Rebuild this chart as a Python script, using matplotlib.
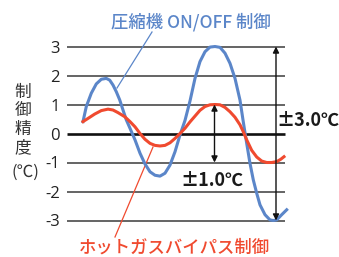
import matplotlib
matplotlib.use("Agg")
import matplotlib.pyplot as plt

plt.rcParams['font.family'] = ['Noto Sans CJK JP', 'DejaVu Sans']

# time axis (arbitrary units) and temperature deviation values
t_blue = [16, 19.3, 24.3, 29.3, 34.3, 39.3, 42.7, 46, 49.3, 52.7, 56, 59.3, 63,
          68, 73, 78, 83, 88, 93, 98, 103, 108, 113, 118, 123, 128, 133, 138,
          143, 148, 153, 158, 163, 168, 173, 176.3, 179.7, 183, 186.3, 189.7,
          193, 198, 203, 206.3, 209.7, 214.7, 219.7]
v_blue = [0.41, 0.93, 1.39, 1.71, 1.87, 1.9, 1.84, 1.67, 1.44, 1.16, 0.81, 0.47,
          0.18, -0.22, -0.68, -1.05, -1.32, -1.44, -1.47, -1.37, -1.09, -0.63,
          -0.05, 0.45, 1.12, 1.9, 2.48, 2.82, 2.98, 3.0, 2.97, 2.77, 2.42, 1.9,
          1.15, 0.4, -0.34, -1.03, -1.6, -2.06, -2.46, -2.8, -2.98, -3.0, -2.98,
          -2.8, -2.63]

t_red = [16, 21, 27.7, 34.3, 41, 46, 51, 57.7, 63, 68, 73, 78, 83, 88, 93, 98,
         103, 108, 113, 118, 123, 128, 133, 138, 143, 148, 153, 158, 163, 168,
         173, 176.3, 179.7, 184.7, 189.7, 194.7, 199.7, 204.7, 209.7, 213.7, 217]
v_red = [0.41, 0.52, 0.67, 0.79, 0.84, 0.81, 0.72, 0.58, 0.41, 0.23, 0.0, -0.2,
         -0.34, -0.41, -0.43, -0.41, -0.32, -0.17, 0.0, 0.18, 0.4, 0.6, 0.8,
         0.93, 0.99, 1.0, 0.99, 0.9, 0.75, 0.56, 0.3, 0.06, -0.22, -0.58,
         -0.81, -0.95, -1.0, -1.0, -0.97, -0.89, -0.8]

yticks = [3, 2, 1, 0, -1, -2, -3]
ytick_labels = ['3', '2', '1', '0', '-1', '-2', '-3']

blue_label = '圧縮機 ON/OFF 制御'
red_label = 'ホットガスバイパス制御'
ylabel_chars = ['制', '御', '精', '度']
yunit = '(℃)'
big_span = '±3.0℃'
small_span = '±1.0℃'

BLUE = '#5b86c9'
RED = '#f04a2f'

W, H = 339, 257
fig = plt.figure(figsize=(W / 100, H / 100), dpi=100)
ax = fig.add_axes([67 / W, 0, (W - 67) / W, 1])
ax.set_xlim(0, W - 67)
ax.set_ylim(-(H - 133.5) / 29, 133.5 / 29)
for s in ax.spines.values():
    s.set_visible(False)
ax.set_xticks([])
ax.set_yticks(yticks)
ax.set_yticklabels(ytick_labels, fontsize=12, color='#222222')
ax.tick_params(axis='y', length=0, pad=5)
for lab in ax.get_yticklabels():
    lab.set_fontfamily(['Open Sans'])

# gridlines
for y in yticks:
    if y == 0:
        ax.hlines(y, 0, 218, color='#111111', lw=1.9, zorder=1)
    else:
        ax.hlines(y, 0, 218, color='#3a3a3a', lw=1.1, zorder=1)

ax.plot(t_blue, v_blue, color=BLUE, lw=2.2, zorder=3, solid_joinstyle='round')
ax.plot(t_red, v_red, color=RED, lw=2.2, zorder=3, solid_joinstyle='round')

# leader lines
ax.plot([85, 50], [(133.5 - 32) / 29, (133.5 - 88) / 29], color=BLUE, lw=0.9, zorder=2)
ax.plot([48, 86], [(133.5 - 237) / 29, (133.5 - 147) / 29], color=RED, lw=0.9, zorder=2)

# arrows
ax.annotate('', xy=(209, -3), xytext=(209, 3),
            arrowprops=dict(arrowstyle='<|-|>', color='#111111', lw=1.0,
                            mutation_scale=9, shrinkA=0, shrinkB=0), zorder=4)
ax.annotate('', xy=(147.5, -1), xytext=(147.5, 1),
            arrowprops=dict(arrowstyle='<|-|>', color='#111111', lw=1.0,
                            mutation_scale=9, shrinkA=0, shrinkB=0), zorder=4)

ax.text(124, (133.5 - 22) / 29, blue_label, color=BLUE, fontsize=12.5,
        ha='center', va='center', fontweight='medium')
ax.text(107, (133.5 - 248) / 29, red_label, color=RED, fontsize=12.5,
        ha='center', va='center', fontweight='medium')
ax.text(241, (133.5 - 120) / 29, big_span, color='#1a1a1a', fontsize=13,
        ha='center', va='center', fontweight='bold')
ax.text(145, (133.5 - 180) / 29, small_span, color='#1a1a1a', fontsize=13,
        ha='center', va='center', fontweight='bold')

for i, ch in enumerate(ylabel_chars):
    fig.text(23 / W, 1 - (92 + 18.5 * i) / H, ch, color='#333333', fontsize=12,
             ha='center', va='center')
fig.text(25 / W, 1 - 172 / H, yunit, color='#333333', fontsize=12,
         ha='center', va='center')

fig.savefig('out.png', dpi=100)
